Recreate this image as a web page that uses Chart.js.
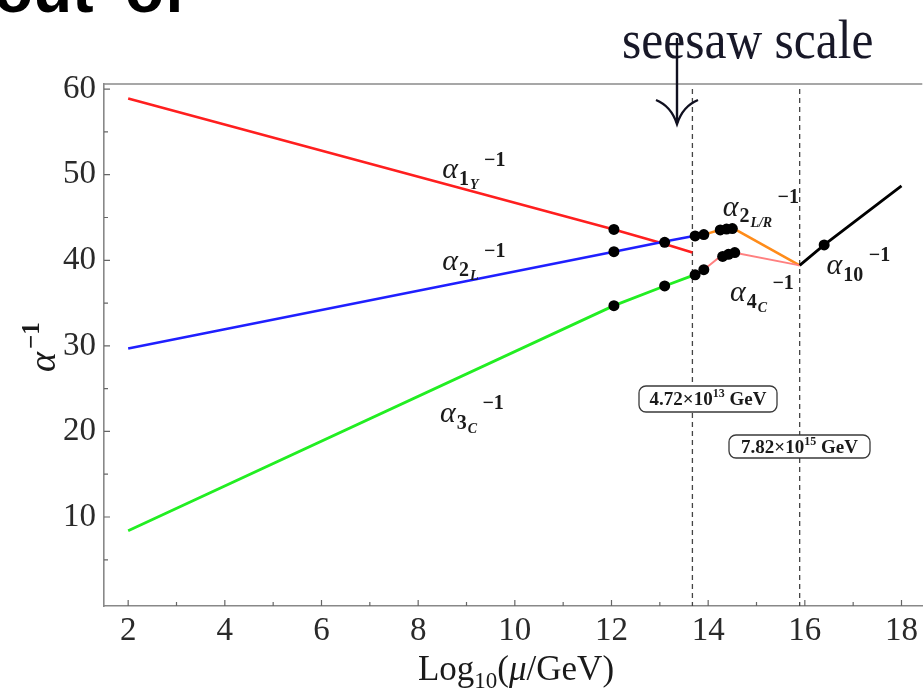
<!DOCTYPE html>
<html>
<head>
<meta charset="utf-8">
<script src="https://cdn.jsdelivr.net/npm/chart.js@4.4.1/dist/chart.umd.min.js"></script>
<style>
html,body{margin:0;padding:0;background:#fff;}
#wrap{width:924px;height:697px;}
</style>
</head>
<body>
<div id="wrap"><canvas id="c" width="924" height="697"></canvas></div>
<script>
// breaking scales in GeV, as printed in the boxes
const seesawGeV = 4.72e13
const unifGeV = 7.82e15
const MS = Math.log10(seesawGeV)
const MU = Math.log10(unifGeV)

// inverse gauge couplings against log10(mu/GeV)
const x1Y = [2, 12.05, 13.1, MS]
const y1Y = [58.9, 43.6, 41.9, 40.9]
const x2L = [2, 12.05, 13.1, MS]
const y2L = [29.7, 41.0, 42.2, 42.8]
const x3C = [2, 12.05, 13.1, MS]
const y3C = [8.4, 34.7, 37.0, 38.2]
const x2LR = [MS, 13.91, 14.22, 14.53, MU]
const y2LR = [42.8, 43.0, 43.5, 43.7, 39.4]
const x4C = [MS, 13.91, 14.22, 14.53, MU]
const y4C = [38.2, 38.9, 40.3, 40.9, 39.4]
const x10 = [MU, 16.4, 18]
const y10 = [39.4, 41.8, 48.7]

// threshold dots
const dotX = [12.05, 12.05, 12.05, 13.1, 13.1, 13.73, 13.91, 13.73, 13.91, 14.25, 14.38, 14.5, 14.3, 14.42, 14.55, 16.4]
const dotY = [43.6, 41.0, 34.7, 42.1, 37.0, 42.85, 43.0, 38.3, 38.9, 43.55, 43.65, 43.7, 40.45, 40.7, 40.9, 41.8]

const xTicks = [2, 4, 6, 8, 10, 12, 14, 16, 18]
const yTicks = [10, 20, 30, 40, 50, 60]

const SERIF = '"Liberation Serif", "Times New Roman", serif'

const pts = (xs, ys) => xs.map((x, i) => ({x: x, y: ys[i]}))

function line(xs, ys, colour, w) {
  return {data: pts(xs, ys), showLine: true, borderColor: colour, borderWidth: w,
    pointRadius: 0, fill: false, tension: 0}
}

// alpha_{sub sub2}^{-1}
function alphaLabel(ctx, px, py, sub, sub2, size) {
  ctx.fillStyle = '#1a1a1a'
  ctx.textBaseline = 'alphabetic'
  ctx.textAlign = 'left'
  ctx.font = 'italic ' + size + 'px ' + SERIF
  ctx.fillText('α', px, py)
  let cx = px + ctx.measureText('α').width + 1
  ctx.font = 'bold ' + Math.round(size * 0.66) + 'px ' + SERIF
  ctx.fillText(sub, cx, py + size * 0.22)
  cx += ctx.measureText(sub).width
  if (sub2) {
    ctx.font = 'italic bold ' + Math.round(size * 0.45) + 'px ' + SERIF
    ctx.fillText(sub2, cx + 1, py + size * 0.36)
    cx += ctx.measureText(sub2).width + 1
  }
  ctx.font = 'bold ' + Math.round(size * 0.66) + 'px ' + SERIF
  ctx.fillText('−1', cx + size * 0.18, py - size * 0.42)
}

function boxLabel(ctx, left, top, w, h, mant, exp) {
  ctx.strokeStyle = '#3a3a3a'
  ctx.lineWidth = 1.3
  ctx.fillStyle = '#fff'
  ctx.beginPath()
  ctx.roundRect(left, top, w, h, 7)
  ctx.fill()
  ctx.stroke()
  ctx.fillStyle = '#1a1a1a'
  ctx.textAlign = 'left'
  ctx.textBaseline = 'alphabetic'
  const base = top + h / 2 + 6
  ctx.font = 'bold 19px ' + SERIF
  const a = mant + '×10'
  const aw = ctx.measureText(a).width
  ctx.font = 'bold 12px ' + SERIF
  const ew = ctx.measureText(exp).width
  ctx.font = 'bold 19px ' + SERIF
  const gw = ctx.measureText(' GeV').width
  let cx = left + (w - aw - ew - gw) / 2
  ctx.fillText(a, cx, base)
  cx += aw
  ctx.font = 'bold 12px ' + SERIF
  ctx.fillText(exp, cx, base - 8)
  cx += ew
  ctx.font = 'bold 19px ' + SERIF
  ctx.fillText(' GeV', cx, base)
}

const decor = {
  id: 'decor',
  beforeDatasetsDraw(chart) {
    const {ctx, chartArea: a, scales: {x, y}} = chart
    ctx.save()
    // top frame edge
    ctx.strokeStyle = '#8a8a8a'
    ctx.lineWidth = 1.6
    ctx.beginPath()
    ctx.moveTo(a.left, a.top)
    ctx.lineTo(a.right, a.top)
    ctx.stroke()
    // inward tick marks
    ctx.strokeStyle = '#666'
    ctx.lineWidth = 1.2
    ctx.beginPath()
    for (let v = 2; v <= 18; v++) {
      const px = x.getPixelForValue(v)
      ctx.moveTo(px, a.bottom)
      ctx.lineTo(px, a.bottom - (v % 2 ? 4 : 6))
    }
    for (let v = 5; v <= 60; v += 5) {
      const py = y.getPixelForValue(v)
      ctx.moveTo(a.left, py)
      ctx.lineTo(a.left + (v % 10 ? 4 : 6), py)
    }
    ctx.stroke()
    // dashed lines at the two breaking scales
    ctx.setLineDash([5, 4])
    ctx.strokeStyle = '#444'
    ctx.lineWidth = 1.3
    ;[MS, MU].forEach(v => {
      const px = x.getPixelForValue(v)
      ctx.beginPath()
      ctx.moveTo(px, a.top + 5)
      ctx.lineTo(px, a.bottom)
      ctx.stroke()
    })
    ctx.restore()
  },
  afterDatasetsDraw(chart) {
    const {ctx, chartArea: a, scales: {x, y}} = chart
    ctx.save()
    alphaLabel(ctx, x.getPixelForValue(8.5), y.getPixelForValue(49.6), '1', 'Y', 30)
    alphaLabel(ctx, x.getPixelForValue(8.5), y.getPixelForValue(38.9), '2', 'L', 30)
    alphaLabel(ctx, x.getPixelForValue(8.45), y.getPixelForValue(21.1), '3', 'C', 30)
    alphaLabel(ctx, x.getPixelForValue(14.3), y.getPixelForValue(45.2), '2', 'L/R', 30)
    alphaLabel(ctx, x.getPixelForValue(14.45), y.getPixelForValue(35.2), '4', 'C', 30)
    alphaLabel(ctx, x.getPixelForValue(16.45), y.getPixelForValue(38.4), '10', '', 30)

    boxLabel(ctx, 639, 386, 138, 26, '4.72', '13')
    boxLabel(ctx, 729, 435, 141, 23, '7.82', '15')

    // y title: alpha^-1, rotated
    ctx.fillStyle = '#1a1a1a'
    ctx.save()
    ctx.translate(55, 372)
    ctx.rotate(-Math.PI / 2)
    ctx.textAlign = 'left'
    ctx.font = 'italic 38px ' + SERIF
    ctx.fillText('α', 0, 0)
    const aw = ctx.measureText('α').width
    ctx.font = 'bold 25px ' + SERIF
    ctx.fillText('−1', aw + 3, -16)
    ctx.restore()

    // x title: Log10(mu/GeV)
    ctx.textAlign = 'left'
    ctx.textBaseline = 'alphabetic'
    const parts = [['Log', '35px ' + SERIF, 0], ['10', '23px ' + SERIF, 8], ['(', '35px ' + SERIF, 0],
      ['μ', 'italic 35px ' + SERIF, 0], ['/GeV)', '35px ' + SERIF, 0]]
    let tw = 0
    parts.forEach(p => { ctx.font = p[1]; tw += ctx.measureText(p[0]).width })
    let cx = 516 - tw / 2
    parts.forEach(p => {
      ctx.font = p[1]
      ctx.fillText(p[0], cx, 680 + p[2])
      cx += ctx.measureText(p[0]).width
    })

    // seesaw scale callout
    ctx.save()
    ctx.translate(622, 58)
    ctx.scale(0.9, 1)
    ctx.font = '55px ' + SERIF
    ctx.fillStyle = '#181828'
    ctx.fillText('seesaw scale', 0, 0)
    ctx.restore()
    ctx.strokeStyle = '#101020'
    ctx.lineWidth = 2.4
    ctx.beginPath()
    ctx.moveTo(677, 38)
    ctx.lineTo(677, 123)
    ctx.stroke()
    ctx.beginPath()
    ctx.moveTo(656, 100)
    ctx.quadraticCurveTo(671, 106, 677, 124)
    ctx.quadraticCurveTo(683, 106, 698, 100)
    ctx.stroke()

    // slide heading running off the top
    ctx.font = 'bold 64px "Liberation Sans", Arial, sans-serif'
    ctx.fillStyle = '#000'
    ctx.fillText('out', -6, 12)
    ctx.fillText('of', 125, 12)
    ctx.restore()
  }
}

new Chart(document.getElementById('c'), {
  type: 'scatter',
  data: {
    datasets: [
      {data: pts(dotX, dotY), pointRadius: 5.5, backgroundColor: '#000', borderWidth: 0, showLine: false},
      line(x10, y10, '#000', 2.8),
      line(x4C, y4C, '#ff8080', 1.9),
      line(x2LR, y2LR, '#ff8c1a', 2.5),
      line(x3C, y3C, '#22ee22', 2.8),
      line(x2L, y2L, '#1f1fff', 2.6),
      line(x1Y, y1Y, '#ff1f1f', 2.6)
    ]
  },
  options: {
    responsive: false,
    animation: false,
    layout: {autoPadding: false, padding: {top: 84, right: 0, left: 0, bottom: 0}},
    plugins: {legend: {display: false}, tooltip: {enabled: false}},
    scales: {
      x: {
        type: 'linear', min: 1.5, max: 18.43,
        grid: {display: false, drawTicks: false},
        border: {color: '#888', width: 1.6},
        ticks: {font: {family: SERIF, size: 33}, color: '#2a2a2a', padding: 6},
        afterBuildTicks: s => { s.ticks = xTicks.map(v => ({value: v})) },
        afterFit: s => { s.height = 91 }
      },
      y: {
        type: 'linear', min: -0.4, max: 60.6,
        grid: {display: false, drawTicks: false},
        border: {color: '#888', width: 1.6},
        ticks: {font: {family: SERIF, size: 33}, color: '#2a2a2a', padding: 8},
        afterBuildTicks: s => { s.ticks = yTicks.map(v => ({value: v})) },
        afterFit: s => { s.width = 104 }
      }
    }
  },
  plugins: [decor]
})
</script>
</body>
</html>
